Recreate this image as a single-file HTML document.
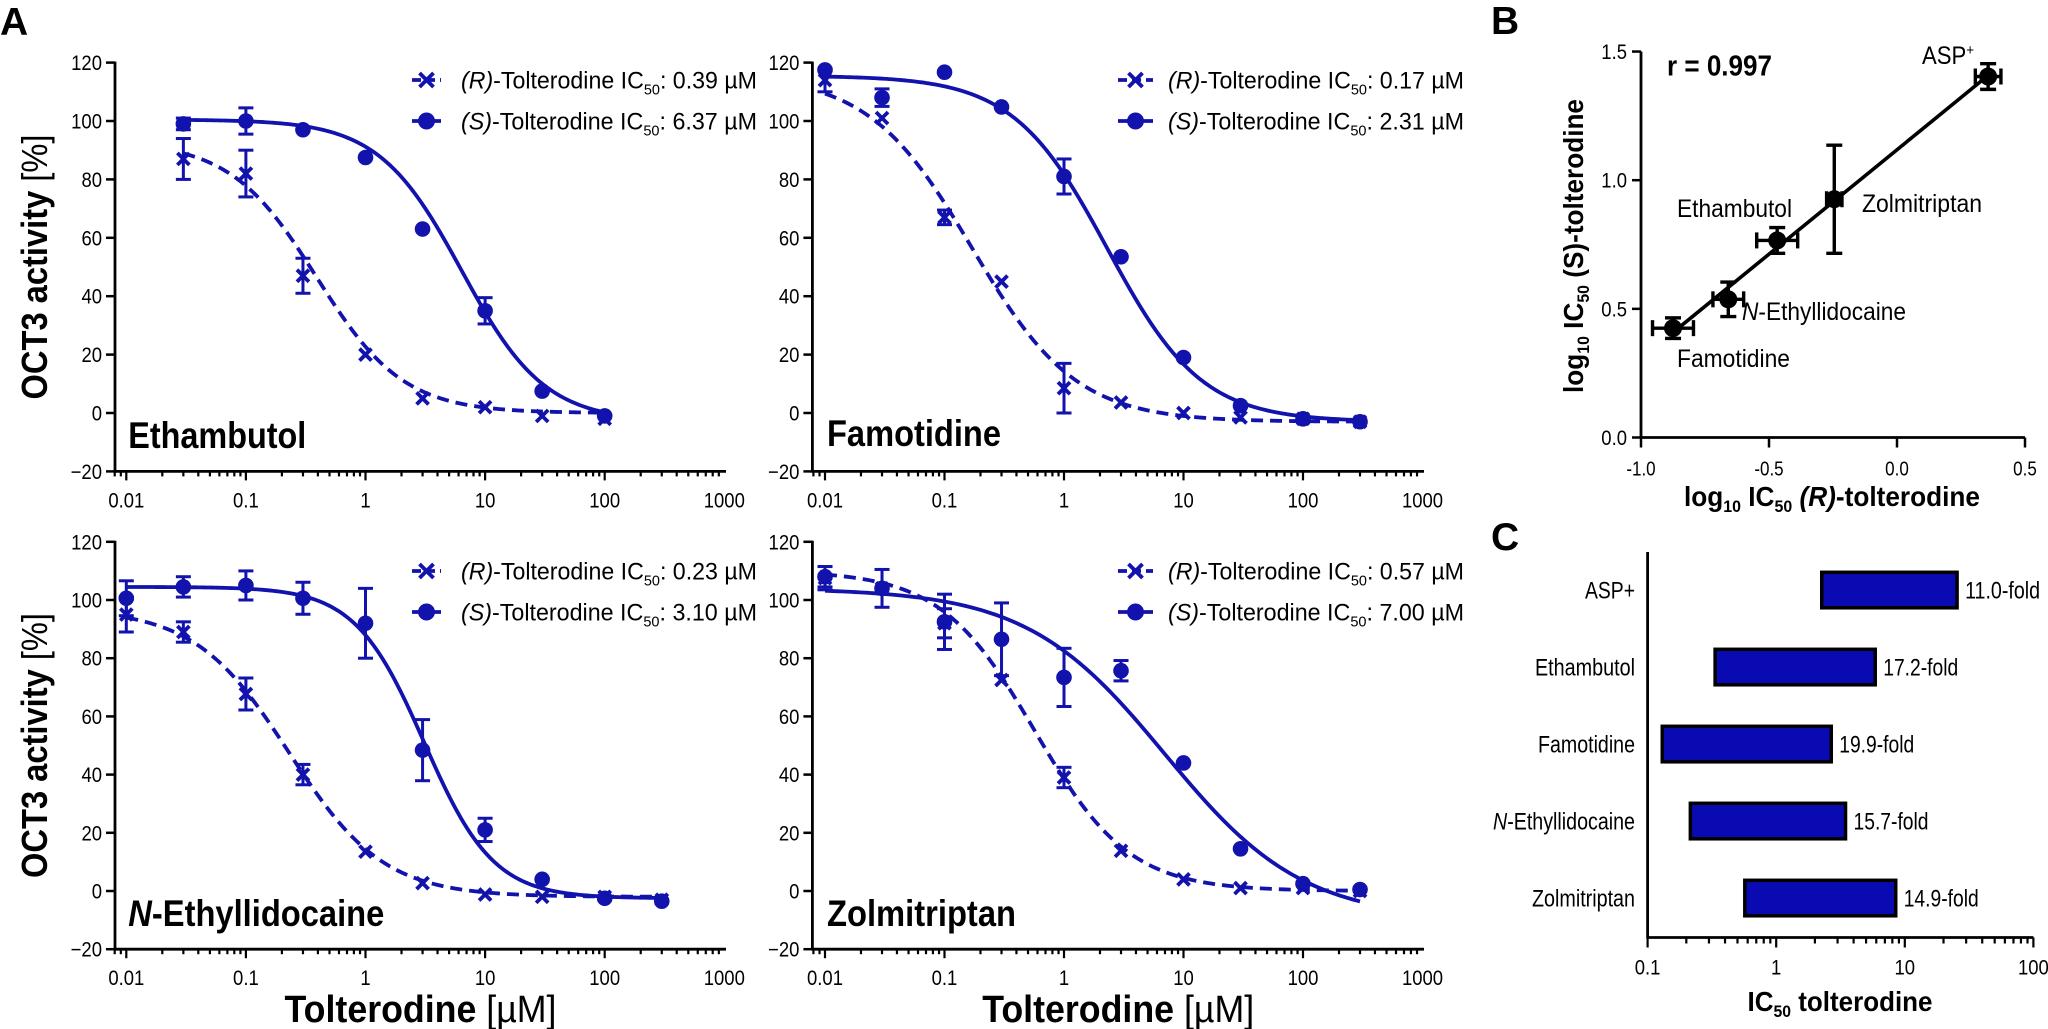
<!DOCTYPE html>
<html><head><meta charset="utf-8"><title>OCT3 inhibition by tolterodine enantiomers</title>
<style>html,body{margin:0;padding:0;background:#fff}svg{display:block}</style></head>
<body>
<svg id="fig" xmlns="http://www.w3.org/2000/svg" width="2048" height="1029" viewBox="0 0 2048 1029" font-family="'Liberation Sans', sans-serif"></svg>
<script>
// ---------- Panel A data ----------
const ethX = [0.03,0.1,0.3,1,3,10,30,100];
const ethR = [87,82,47,20,5,2,-1,-2];
const ethRerr = [7,8,6,0,0,0,0,0];
const ethS = [99,100,97,87.5,63,35,7.5,-1];
const ethSerr = [2,4.5,0,0,0,4.5,0,0];
const ethRfit = [93,0,0.39,1.2];
const ethSfit = [100.5,-3,6.37,1.25];

const famX = [0.01,0.03,0.1,0.3,1,3,10,30,100,300];
const famR = [114,101,67,45,8.5,3.6,0,-1.5,-2,-3];
const famRerr = [4,0,2.5,0,8.5,0,0,0,0,0];
const famS = [117.5,108,116.7,104.8,81,53.5,19,2.5,-2,-3];
const famSerr = [0,3,0,0,6,0,0,0,0,0];
const famRfit = [116,-3,0.17,1.0];
const famSfit = [115.5,-3,2.31,1.1];

const netX = [0.01,0.03,0.1,0.3,1,3,10,30,100,300];
const netR = [95,89,67.7,40,13.5,2.7,-1.2,-2,-2,-3];
const netRerr = [6,3.5,5.5,3.5,0,0,0,0,0,0];
const netS = [100.6,104.5,105,100.6,92,48.4,21,4,-2.5,-3.5];
const netSerr = [6,3.5,5,5.5,12,10.5,4,0,0,0];
const netRfit = [97,-2,0.23,1.1];
const netSfit = [104.5,-2.5,3.10,1.5];

const zolX = [0.01,0.03,0.1,0.3,1,3,10,30,100,300];
const zolR = [107.5,104,92,72.5,39,13.8,4,1,1,0];
const zolRerr = [4,0,5,0,3.5,0,0,0,0,0];
const zolS = [108,104,92.5,86.5,73.4,75.7,44,14.5,2.5,0.5];
const zolSerr = [3.5,6.5,9.5,12.5,10,3.5,0,0,0,0];
const zolRfit = [110,0,0.57,1.1];
const zolSfit = [104,-10,7.0,0.75];

const yTicksA = [-20,0,20,40,60,80,100,120];
const yTickLabelsA = ['\u221220','0','20','40','60','80','100','120'];
const xTicksA = [0.01,0.1,1,10,100,1000];
const xTickLabelsA = ['0.01','0.1','1','10','100','1000'];

// ---------- Panel B data ----------
const bNames = ['ASP+','Zolmitriptan','Ethambutol','N-Ethyllidocaine','Famotidine'];
const bX = [0.356,-0.245,-0.468,-0.659,-0.875];
const bY = [1.403,0.926,0.766,0.537,0.425];
const bXerr = [0.05,0.03,0.08,0.06,0.08];
const bYerr = [0.05,0.21,0.05,0.067,0.04];
const bXTicks = [-1.0,-0.5,0.0,0.5];
const bXTickLabels = ['-1.0','-0.5','0.0','0.5'];
const bYTicks = [0.0,0.5,1.0,1.5];
const bYTickLabels = ['0.0','0.5','1.0','1.5'];

// ---------- Panel C data ----------
const cNames = ['ASP+','Ethambutol','Famotidine','N-Ethyllidocaine','Zolmitriptan'];
const cLow = [2.26,0.335,0.13,0.215,0.57];
const cHigh = [25.5,5.89,2.68,3.46,8.5];
const cFold = ['11.0-fold','17.2-fold','19.9-fold','15.7-fold','14.9-fold'];
const cXTicks = [0.1,1,10,100];
const cXTickLabels = ['0.1','1','10','100'];

const NS = 'http://www.w3.org/2000/svg';
const svg = document.getElementById('fig');
const BLUE = '#1212ad';

function mk(tag, attrs, parent){
  const e = document.createElementNS(NS, tag);
  for (const k in attrs) e.setAttribute(k, attrs[k]);
  parent.appendChild(e);
  return e;
}
function T(parent, x, y, html, o){
  o = o || {};
  const t = mk('text', {x:x, y:y, 'font-size':o.size||21, 'font-weight':o.weight||'normal',
    'text-anchor':o.anchor||'start', fill:o.fill||'#000'}, parent);
  if (o.rot) t.setAttribute('transform', 'rotate(' + o.rot + ' ' + x + ' ' + y + ')');
  t.innerHTML = html;
  if (o.len) { t.setAttribute('textLength', o.len); t.setAttribute('lengthAdjust','spacingAndGlyphs'); }
  else if (o.sx) { const L = t.getComputedTextLength(); t.setAttribute('textLength', L*o.sx); t.setAttribute('lengthAdjust','spacingAndGlyphs'); }
  return t;
}
function hill(c, f){ return f[1] + (f[0]-f[1])/(1+Math.pow(c/f[2], f[3])); }

function drawPanel(p, xs, rv, re, sv, se, rfit, sfit, key, title, titleLen, rIC, sIC){
  const g = mk('g', {}, svg);
  
  
  const X = c => p.x001 + Math.log10(c/0.01)*p.dec;
  const Y = v => p.y0 - v*p.per20/20;
  const yb = Y(-20);
  const ya = mk('line', {x1:p.ax, y1:Y(120)-1, x2:p.ax, y2:yb, stroke:'#000', 'stroke-width':2.8}, g);
  
  
  const xa = mk('line', {x1:p.ax-1, y1:yb, x2:p.xEnd, y2:yb, stroke:'#000', 'stroke-width':2.8}, g);
  
  
  yTicksA.forEach((v,i)=>{
    const tk = mk('line', {x1:p.ax-9, y1:Y(v), x2:p.ax, y2:Y(v), stroke:'#000', 'stroke-width':2.5}, g);
    
    
    const tl = T(g, p.ax-13, Y(v)+7.5, yTickLabelsA[i], {anchor:'end', size:21, sx:0.88});
    
    
  });
  for (let d=-3; d<=2; d++){
    for (let k=1; k<=9; k++){
      const v = k*Math.pow(10,d);
      const px = X(v);
      if (px < p.ax-0.5 || px > p.xEnd+0.5) continue;
      const tk = mk('line', {x1:px, y1:yb, x2:px, y2:yb+(k===1?9:5), stroke:'#000', 'stroke-width':2.2}, g);
      
      
    }
  }
  xTicksA.forEach((v,i)=>{
    const tl = T(g, X(v), yb+36, xTickLabelsA[i], {anchor:'middle', size:21, sx:0.88});
    
    
  });
  function curve(f, dashed, nm){
    const lo = Math.log10(xs[0]), hi = Math.log10(xs[xs.length-1]);
    let d = '';
    for (let i=0;i<=200;i++){
      const c = Math.pow(10, lo + (hi-lo)*i/200);
      d += (i?'L':'M') + X(c).toFixed(2) + ',' + Y(hill(c,f)).toFixed(2);
    }
    const pth = mk('path', {d:d, fill:'none', stroke:BLUE, 'stroke-width':3.8}, g);
    if (dashed) pth.setAttribute('stroke-dasharray','12 7');
    
    
  }
  curve(rfit, true, key + '-r-fit-curve');
  curve(sfit, false, key + '-s-fit-curve');
  function errbar(c, v, e, nm){
    if (!e) return;
    const eg = mk('g', {stroke:BLUE, 'stroke-width':3}, g);
    
    
    const px = X(c), y1 = Y(v+e), y2 = Y(v-e);
    mk('line', {x1:px, y1:y1, x2:px, y2:y2}, eg);
    mk('line', {x1:px-7.5, y1:y1, x2:px+7.5, y2:y1}, eg);
    mk('line', {x1:px-7.5, y1:y2, x2:px+7.5, y2:y2}, eg);
  }
  function xmark(parent, px, py, s){
    const m = mk('g', {stroke:BLUE, 'stroke-width':3.8}, parent);
    mk('line', {x1:px-s, y1:py-s, x2:px+s, y2:py+s}, m);
    mk('line', {x1:px-s, y1:py+s, x2:px+s, y2:py-s}, m);
    return m;
  }
  xs.forEach((c,i)=>{
    errbar(c, sv[i], se[i], key + '-s-error-bar');
    const ci = mk('circle', {cx:X(c), cy:Y(sv[i]), r:7.8, fill:BLUE}, g);
    
    
  });
  xs.forEach((c,i)=>{
    errbar(c, rv[i], re[i], key + '-r-error-bar');
    const m = xmark(g, X(c), Y(rv[i]), 6);
    
    
  });
  const lg = mk('g', {}, g);
  
  
  const l1 = mk('line', {x1:p.mk0, y1:p.leg1, x2:p.mk1, y2:p.leg1, stroke:BLUE, 'stroke-width':3.8, 'stroke-dasharray':'9 5'}, lg);
  
  
  const lm = xmark(lg, (p.mk0+p.mk1)/2, p.leg1, 7);
  
  
  const l2 = mk('line', {x1:p.mk0, y1:p.leg2, x2:p.mk1, y2:p.leg2, stroke:BLUE, 'stroke-width':3.8}, lg);
  
  
  const lc = mk('circle', {cx:(p.mk0+p.mk1)/2, cy:p.leg2, r:8.5, fill:BLUE}, lg);
  
  
  const t1 = T(lg, p.tx, p.leg1+8.5, '<tspan font-style="italic">(R)</tspan>-Tolterodine IC<tspan font-size="15" dy="6">50</tspan><tspan dy="-6">: ' + rIC + ' \u00b5M</tspan>', {size:24, len:296});
  
  
  const t2 = T(lg, p.tx, p.leg2+8.5, '<tspan font-style="italic">(S)</tspan>-Tolterodine IC<tspan font-size="15" dy="6">50</tspan><tspan dy="-6">: ' + sIC + ' \u00b5M</tspan>', {size:24, len:296});
  
  
  const nt = T(g, p.x001+2, p.titleY, title, {size:37, weight:'bold', len:titleLen});
  
  
  if (p.ytitle){
    const yt = T(g, 47, (Y(120)+yb)/2, 'OCT3 activity <tspan font-weight="normal">[%]</tspan>', {size:36, weight:'bold', anchor:'middle', rot:-90, len:265});
    
    
  }
  if (p.xtitle){
    const xt = T(g, (p.ax+p.xEnd)/2, 1022, 'Tolterodine <tspan font-weight="normal">[\u00b5M]</tspan>', {size:38, weight:'bold', anchor:'middle', len:272});
    
    
  }
}

const L = {ax:115, x001:126.3, dec:119.6, xEnd:726, mk0:412, mk1:441, tx:461};
const R = {ax:812.4, x001:825, dec:119.5, xEnd:1424, mk0:1118, mk1:1153, tx:1168};
drawPanel(Object.assign({}, L, {y0:413, per20:58.4, leg1:80, leg2:121, titleY:448, ytitle:true}), ethX, ethR, ethRerr, ethS, ethSerr, ethRfit, ethSfit, 'ethambutol', 'Ethambutol', 178, '0.39', '6.37');
drawPanel(Object.assign({}, R, {y0:413, per20:58.4, leg1:80, leg2:121, titleY:446}), famX, famR, famRerr, famS, famSerr, famRfit, famSfit, 'famotidine', 'Famotidine', 174, '0.17', '2.31');
drawPanel(Object.assign({}, L, {y0:891, per20:58.2, leg1:571, leg2:612, titleY:926, ytitle:true, xtitle:true}), netX, netR, netRerr, netS, netSerr, netRfit, netSfit, 'n-ethyllidocaine', '<tspan font-style="italic">N</tspan>-Ethyllidocaine', 256, '0.23', '3.10');
drawPanel(Object.assign({}, R, {y0:891, per20:58.2, leg1:571, leg2:612, titleY:926, xtitle:true}), zolX, zolR, zolRerr, zolS, zolSerr, zolRfit, zolSfit, 'zolmitriptan', 'Zolmitriptan', 189, '0.57', '7.00');

const la = T(svg, 0, 35, 'A', {size:39, weight:'bold'});


const lb = T(svg, 1491, 34, 'B', {size:39, weight:'bold'});


const lcL = T(svg, 1491, 550, 'C', {size:39, weight:'bold'});



// ---------- Panel B ----------
(function(){
  const g = mk('g', {}, svg);
  
  
  const X = v => 1641 + (v+1)*256;
  const Y = v => 437.5 - v*257.3;
  const ya = mk('line', {x1:1641, y1:Y(1.5), x2:1641, y2:Y(0)+1, stroke:'#000', 'stroke-width':2.8}, g);
  
  
  const xa = mk('line', {x1:1640, y1:Y(0), x2:X(0.5), y2:Y(0), stroke:'#000', 'stroke-width':2.8}, g);
  
  
  bYTicks.forEach((v,i)=>{
    const tk = mk('line', {x1:1632, y1:Y(v), x2:1641, y2:Y(v), stroke:'#000', 'stroke-width':2.5}, g);
    
    
    const tl = T(g, 1627, Y(v)+7.5, bYTickLabels[i], {anchor:'end', size:21, sx:0.88});
    
    
  });
  bXTicks.forEach((v,i)=>{
    const tk = mk('line', {x1:X(v), y1:Y(0), x2:X(v), y2:Y(0)+10, stroke:'#000', 'stroke-width':2.5}, g);
    
    
    const tl = T(g, X(v), 475.5, bXTickLabels[i], {anchor:'middle', size:20, sx:0.85});
    
    
  });
  const n = bX.length;
  const mx = bX.reduce((a,b)=>a+b,0)/n, my = bY.reduce((a,b)=>a+b,0)/n;
  let sxy=0, sxx=0;
  for (let i=0;i<n;i++){ sxy += (bX[i]-mx)*(bY[i]-my); sxx += (bX[i]-mx)*(bX[i]-mx); }
  const sl = sxy/sxx, ic = my - sl*mx;
  const x0 = Math.min(...bX)+0.03, x1 = Math.max(...bX);
  const rl = mk('line', {x1:X(x0), y1:Y(sl*x0+ic), x2:X(x1), y2:Y(sl*x1+ic), stroke:'#000', 'stroke-width':3.6}, g);
  
  
  for (let i=0;i<n;i++){
    const eg = mk('g', {stroke:'#000', 'stroke-width':3.4}, g);
    
    
    const px = X(bX[i]), py = Y(bY[i]);
    const xl = X(bX[i]-bXerr[i]), xr = X(bX[i]+bXerr[i]);
    const yt = Y(bY[i]+bYerr[i]), ybm = Y(bY[i]-bYerr[i]);
    mk('line', {x1:xl, y1:py, x2:xr, y2:py}, eg);
    mk('line', {x1:xl, y1:py-8, x2:xl, y2:py+8}, eg);
    mk('line', {x1:xr, y1:py-8, x2:xr, y2:py+8}, eg);
    mk('line', {x1:px, y1:yt, x2:px, y2:ybm}, eg);
    mk('line', {x1:px-8, y1:yt, x2:px+8, y2:yt}, eg);
    mk('line', {x1:px-8, y1:ybm, x2:px+8, y2:ybm}, eg);
    const c = mk('circle', {cx:px, cy:py, r:9, fill:'#000'}, g);
    
    
  }
  const r = T(g, 1667, 75.5, 'r = 0.997', {size:29, weight:'bold', len:105});
  
  
  const a1 = T(g, 1922, 64, 'ASP<tspan font-size="15" dy="-9">+</tspan>', {size:25, len:52});
  
  
  const a2 = T(g, 1862, 212, 'Zolmitriptan', {size:25, len:120});
  
  
  const a3 = T(g, 1677, 217, 'Ethambutol', {size:25, len:115});
  
  
  const a4 = T(g, 1742, 320, '<tspan font-style="italic">N</tspan>-Ethyllidocaine', {size:25, len:164});
  
  
  const a5 = T(g, 1677, 367, 'Famotidine', {size:25, len:113});
  
  
  const xt = T(g, 1832, 506, 'log<tspan font-size="17" dy="6">10</tspan><tspan dy="-6"> IC</tspan><tspan font-size="17" dy="6">50</tspan><tspan dy="-6"> </tspan><tspan font-style="italic">(R)</tspan>-tolterodine', {size:28, weight:'bold', anchor:'middle', len:296});
  
  
  const ytt = T(g, 1583, 246, 'log<tspan font-size="17" dy="6">10</tspan><tspan dy="-6"> IC</tspan><tspan font-size="17" dy="6">50</tspan><tspan dy="-6"> (S)-tolterodine</tspan>', {size:28, weight:'bold', anchor:'middle', rot:-90, len:294});
  
  
})();

// ---------- Panel C ----------
(function(){
  const g = mk('g', {}, svg);
  
  
  const X = v => 1647.6 + (Math.log10(v)+1)*128.6;
  const yAx = 937.5;
  const ya = mk('line', {x1:1647.6, y1:552, x2:1647.6, y2:yAx+1, stroke:'#000', 'stroke-width':2.8}, g);
  
  
  const xa = mk('line', {x1:1646.5, y1:yAx, x2:X(100), y2:yAx, stroke:'#000', 'stroke-width':2.8}, g);
  
  
  for (let d=-1; d<=1; d++){
    for (let k=1;k<=9;k++){
      const v = k*Math.pow(10,d);
      const tk = mk('line', {x1:X(v), y1:yAx, x2:X(v), y2:yAx+(k===1?10:6), stroke:'#000', 'stroke-width':2.2}, g);
      
      
    }
  }
  const tEnd = mk('line', {x1:X(100), y1:yAx, x2:X(100), y2:yAx+10, stroke:'#000', 'stroke-width':2.2}, g);
  
  
  cXTicks.forEach((v,i)=>{
    const tl = T(g, X(v), 974.5, cXTickLabels[i], {anchor:'middle', size:21, sx:0.88});
    
    
  });
  const catLen = [50,100,97,142,103];
  cNames.forEach((nm,i)=>{
    const cy = 590 + i*77;
    const b = mk('rect', {x:X(cLow[i]), y:cy-17.7, width:X(cHigh[i])-X(cLow[i]), height:35.5, fill:'#0a0ab2', stroke:'#000', 'stroke-width':3.5}, g);
    
    
    const html = nm === 'N-Ethyllidocaine' ? '<tspan font-style="italic">N</tspan>-Ethyllidocaine' : nm;
    const cl = T(g, 1635, cy+8.5, html, {anchor:'end', size:24, len:catLen[i]});
    
    
    const fl = T(g, X(cHigh[i])+8, cy+8.5, cFold[i], {size:24, len:75});
    
    
  });
  const xt = T(g, 1840, 1011, 'IC<tspan font-size="17" dy="6">50</tspan><tspan dy="-6"> tolterodine</tspan>', {size:28, weight:'bold', anchor:'middle', len:185});
  
  
})();
</script>
</body></html>
